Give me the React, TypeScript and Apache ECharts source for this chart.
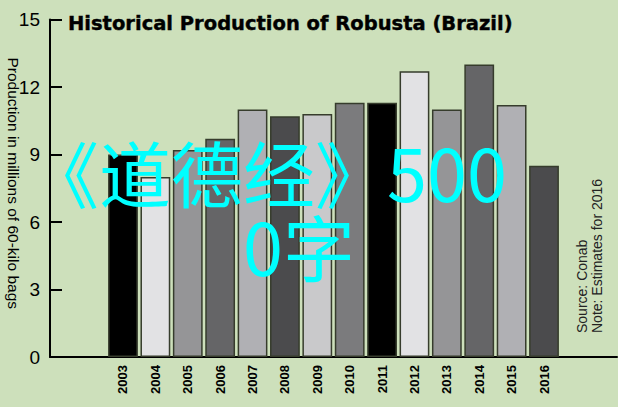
import React, { useEffect, useRef } from "react";
import * as echarts from "echarts";

const years = ["2003", "2004", "2005", "2006", "2007", "2008", "2009", "2010", "2011", "2012", "2013", "2014", "2015", "2016"];
const production = [9.0, 8.0, 9.2, 9.7, 11.0, 10.7, 10.8, 11.3, 11.3, 12.7, 11.0, 13.0, 11.2, 8.5];
const barColors = ["#000000", "#e2e2e4", "#959597", "#656567", "#b0b0b4", "#4b4b4d", "#c9c9cb", "#7b7b7d", "#000000", "#e2e2e4", "#959597", "#656567", "#b0b0b4", "#4b4b4d"];
const titleText = "Historical Production of Robusta (Brazil)";
const yAxisName = "Production in millions of 60-kilo bags";
const sourceText = "Source: Conab";
const noteText = "Note: Estimates for 2016";
const overlayLine1 = "《道德经》500";
const overlayLine2 = "0字";

export default function App() {
  const ref = useRef<HTMLDivElement>(null);
  useEffect(() => {
    if (!ref.current) return;
    const chart = echarts.init(ref.current, null, { renderer: "svg" });
    const font = "'Liberation Sans', Arial, sans-serif";
    const cjk = "'Noto Sans CJK SC', sans-serif";
    chart.setOption({
      animation: false,
      backgroundColor: "#cde0bb",
      title: {
        text: titleText,
        left: 63,
        top: 8,
        textStyle: {
          fontFamily: "'DejaVu Sans', sans-serif",
          fontSize: 19.5,
          fontWeight: "bold",
          color: "#000",
          textBorderColor: "#000",
          textBorderWidth: 0.4,
        },
      },
      grid: [
        { left: 50, right: 1, top: 19.5, bottom: 50, outerBoundsMode: "none", containLabel: false },
        { left: 106.8, right: 57.8, top: 19.5, bottom: 50, outerBoundsMode: "none", containLabel: false },
      ],
      xAxis: [
        {
          gridIndex: 0,
          type: "value",
          min: 0,
          max: 1,
          axisLine: { show: true, onZero: false, lineStyle: { color: "#000", width: 2 } },
          axisTick: { show: false },
          axisLabel: { show: false },
          splitLine: { show: false },
        },
        {
          gridIndex: 1,
          type: "category",
          data: years,
          axisLine: { show: false },
          axisTick: { show: false },
          axisLabel: {
            rotate: 90,
            margin: 8,
            fontFamily: font,
            fontSize: 13,
            fontWeight: "bold",
            color: "#000",
          },
        },
      ],
      yAxis: [
        {
          gridIndex: 0,
          type: "value",
          min: 0,
          max: 15,
          interval: 3,
          name: yAxisName,
          nameLocation: "middle",
          nameRotate: -90,
          nameGap: 28.5,
          nameMoveOverlap: false,
          nameTextStyle: { fontFamily: font, fontSize: 15.5, color: "#000", padding: [0, 10, 0, 0] },
          axisLine: { show: true, lineStyle: { color: "#000", width: 2 } },
          axisTick: { show: true, inside: true, length: 12, lineStyle: { color: "#000", width: 2 } },
          axisLabel: { margin: 10, fontFamily: font, fontSize: 19, color: "#000" },
          splitLine: { show: false },
        },
        {
          gridIndex: 1,
          type: "value",
          min: 0,
          max: 15,
          show: false,
        },
      ],
      series: [
        {
          type: "bar",
          xAxisIndex: 1,
          yAxisIndex: 1,
          barCategoryGap: "8%",
          data: production.map((v, i) => ({
            value: v,
            itemStyle: { color: barColors[i] },
          })),
          itemStyle: { borderColor: "#363c2c", borderWidth: 1.5 },
        },
      ],
      graphic: [
        {
          type: "text",
          x: 582,
          y: 333,
          rotation: Math.PI / 2,
          style: { text: sourceText, fontFamily: font, fontSize: 14, fill: "#222", align: "left", verticalAlign: "middle" },
        },
        {
          type: "text",
          x: 597,
          y: 333,
          rotation: Math.PI / 2,
          style: { text: noteText, fontFamily: font, fontSize: 14, fill: "#222", align: "left", verticalAlign: "middle" },
        },
        {
          type: "text",
          x: 27,
          y: 134,
          z: 100,
          style: { text: overlayLine1, fontFamily: cjk, fontSize: 72, fill: "#00ffff", align: "left", verticalAlign: "top" },
        },
        {
          type: "text",
          x: 243,
          y: 208,
          z: 100,
          style: { text: overlayLine2, fontFamily: cjk, fontSize: 72, fill: "#00ffff", align: "left", verticalAlign: "top" },
        },
      ],
    });
    return () => chart.dispose();
  }, []);
  return <div ref={ref} style={{ position: "fixed", left: 0, top: 0, width: 618, height: 407 }} />;
}
